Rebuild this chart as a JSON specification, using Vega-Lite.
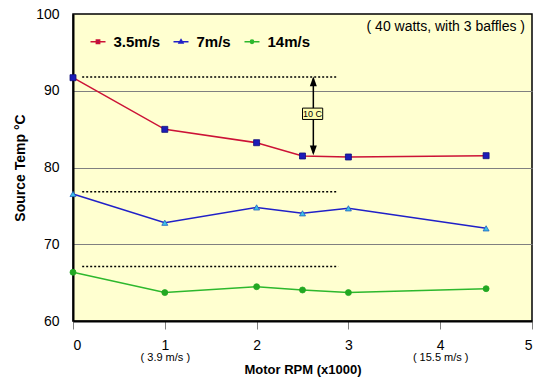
{
  "$schema": "https://vega.github.io/schema/vega-lite/v6.json",
  "width": 459,
  "height": 307,
  "autosize": {"type": "none"},
  "padding": {"left": 73, "top": 14, "right": 4, "bottom": 56},
  "background": "white",
  "config": {
    "font": "Liberation Sans",
    "view": {"fill": "#ffffd0", "stroke": "#000000", "strokeWidth": 1.5},
    "axis": {"labelColor": "#000000", "titleColor": "#000000", "labelFont": "Liberation Sans", "titleFont": "Liberation Sans"}
  },
  "datasets": {
    "temps": [
      {"series": "3.5m/s", "rpm": 0, "temp": 91.7},
      {"series": "3.5m/s", "rpm": 1, "temp": 84.97},
      {"series": "3.5m/s", "rpm": 2, "temp": 83.23},
      {"series": "3.5m/s", "rpm": 2.5, "temp": 81.5},
      {"series": "3.5m/s", "rpm": 3, "temp": 81.37},
      {"series": "3.5m/s", "rpm": 4.5, "temp": 81.54},
      {"series": "7m/s", "rpm": 0, "temp": 76.55},
      {"series": "7m/s", "rpm": 1, "temp": 72.8},
      {"series": "7m/s", "rpm": 2, "temp": 74.8},
      {"series": "7m/s", "rpm": 2.5, "temp": 74.03},
      {"series": "7m/s", "rpm": 3, "temp": 74.68},
      {"series": "7m/s", "rpm": 4.5, "temp": 72.07},
      {"series": "14m/s", "rpm": 0, "temp": 66.35},
      {"series": "14m/s", "rpm": 1, "temp": 63.7},
      {"series": "14m/s", "rpm": 2, "temp": 64.47},
      {"series": "14m/s", "rpm": 2.5, "temp": 64.04},
      {"series": "14m/s", "rpm": 3, "temp": 63.7},
      {"series": "14m/s", "rpm": 4.5, "temp": 64.21}
    ]
  },
  "resolve": {"axis": {"x": "independent"}},
  "layer": [
    {
      "data": {"name": "temps"},
      "mark": {"type": "line", "strokeWidth": 1.5},
      "encoding": {
        "x": {"field": "rpm", "type": "quantitative", "scale": {"domain": [0, 5], "nice": false},
          "axis": {"orient": "bottom", "values": [0, 1, 2, 3, 4, 5], "format": "d", "title": null, "grid": false, "domain": true, "domainColor": "#000000", "domainWidth": 2, "tickSize": 8, "tickColor": "#808080", "labelFontSize": 14, "labelPadding": 9}},
        "y": {"field": "temp", "type": "quantitative", "scale": {"domain": [60, 100], "nice": false},
          "axis": {"values": [60, 70, 80, 90, 100], "title": "Source Temp °C", "titleFontSize": 14, "titleFontWeight": "bold", "titlePadding": 8, "labelFontSize": 14, "labelPadding": 14, "ticks": false, "tickSize": 0, "domain": true, "domainColor": "#000000", "domainWidth": 2, "grid": true, "gridColor": {"condition": {"test": "datum.value == 60 || datum.value == 100", "value": "transparent"}, "value": "#808080"}, "gridWidth": 1}},
        "color": {"field": "series", "type": "nominal",
          "scale": {"domain": ["3.5m/s", "7m/s", "14m/s"], "range": ["#cc1236", "#2020c8", "#2db82d"]},
          "legend": {"orient": "none", "legendX": 16.5, "legendY": 19, "direction": "horizontal", "title": null, "padding": 0,
            "labelFontSize": 15, "labelFontWeight": "bold", "labelColor": "#000000", "labelFont": "Liberation Sans", "labelOffset": 7, "columnPadding": 10,
            "symbolSize": 225, "symbolStrokeWidth": 1.5, "symbolType": "M-1,0H1M-0.2,-0.2H0.2V0.2H-0.2Z",
            "encode": {"symbols": {"update": {
              "shape": {"signal": "datum.value === '3.5m/s' ? 'M-1,0H1M-0.22,-0.22H0.22V0.22H-0.22Z' : datum.value === '7m/s' ? 'M-1,0H1M0,-0.27L0.26,0.18H-0.26Z' : 'M-1,0H1M0.22,0A0.22,0.22,0,1,1,-0.22,0A0.22,0.22,0,1,1,0.22,0'"},
              "fill": {"signal": "datum.value === '3.5m/s' ? '#1c1cb8' : datum.value === '7m/s' ? '#3cc0e8' : '#22a822'"},
              "fillOpacity": {"value": 1}
            }}}}}
      }
    },
    {
      "data": {"name": "temps"},
      "transform": [{"filter": "datum.series === '3.5m/s'"}],
      "mark": {"type": "point", "shape": "square", "filled": true, "fill": "#1c1cb8", "stroke": "#10107a", "strokeWidth": 0.8, "opacity": 1, "size": 36},
      "encoding": {
        "x": {"field": "rpm", "type": "quantitative", "axis": null},
        "y": {"field": "temp", "type": "quantitative"}
      }
    },
    {
      "data": {"name": "temps"},
      "transform": [{"filter": "datum.series === '7m/s'"}],
      "mark": {"type": "point", "shape": "triangle-up", "filled": true, "fill": "#3cc0e8", "stroke": "#2060c0", "strokeWidth": 0.8, "opacity": 1, "size": 36},
      "encoding": {
        "x": {"field": "rpm", "type": "quantitative", "axis": null},
        "y": {"field": "temp", "type": "quantitative"}
      }
    },
    {
      "data": {"name": "temps"},
      "transform": [{"filter": "datum.series === '14m/s'"}],
      "mark": {"type": "point", "shape": "circle", "filled": true, "fill": "#22a822", "stroke": "#22a822", "strokeWidth": 0.8, "opacity": 1, "size": 36},
      "encoding": {
        "x": {"field": "rpm", "type": "quantitative", "axis": null},
        "y": {"field": "temp", "type": "quantitative"}
      }
    },
    {
      "data": {"values": [
        {"x": 0.1, "x2": 2.87, "temp": 91.8},
        {"x": 0.1, "x2": 2.87, "temp": 76.85},
        {"x": 0.1, "x2": 2.89, "temp": 67.1}
      ]},
      "mark": {"type": "rule", "color": "#000000", "strokeWidth": 1.5, "strokeDash": [2, 2]},
      "encoding": {
        "x": {"field": "x", "type": "quantitative",
          "axis": {"orient": "bottom", "values": [1, 4], "labelExpr": "datum.value == 1 ? '( 3.9 m/s )' : '( 15.5 m/s )'", "ticks": false, "tickSize": 0, "domain": false, "grid": false, "labelFontSize": 11, "labelPadding": 30,
            "title": "Motor RPM (x1000)", "titleFontSize": 13, "titleFontWeight": "bold", "titlePadding": 1}},
        "x2": {"field": "x2"},
        "y": {"field": "temp", "type": "quantitative"}
      }
    },
    {
      "data": {"values": [{"x": 2.618, "y1": 81.9, "y2": 91.6}]},
      "mark": {"type": "rule", "color": "#000000", "strokeWidth": 1.5},
      "encoding": {
        "x": {"field": "x", "type": "quantitative", "axis": null},
        "y": {"field": "y1", "type": "quantitative"},
        "y2": {"field": "y2"}
      }
    },
    {
      "data": {"values": [{"x": 2.618, "temp": 91.85}]},
      "mark": {"type": "point", "filled": true, "color": "#000000", "opacity": 1, "size": 49, "shape": "M0,0L1,2.8L-1,2.8Z"},
      "encoding": {
        "x": {"field": "x", "type": "quantitative", "axis": null},
        "y": {"field": "temp", "type": "quantitative"}
      }
    },
    {
      "data": {"values": [{"x": 2.618, "temp": 81.6}]},
      "mark": {"type": "point", "filled": true, "color": "#000000", "opacity": 1, "size": 49, "shape": "M0,0L1,-2.8L-1,-2.8Z"},
      "encoding": {
        "x": {"field": "x", "type": "quantitative", "axis": null},
        "y": {"field": "temp", "type": "quantitative"}
      }
    },
    {
      "data": {"values": [{"x": 2.5, "x2": 2.72, "temp": 87.74, "temp2": 86.26}]},
      "mark": {"type": "rect", "fill": "#ffffb0", "stroke": "#000000", "strokeWidth": 1},
      "encoding": {
        "x": {"field": "x", "type": "quantitative", "axis": null},
        "x2": {"field": "x2"},
        "y": {"field": "temp", "type": "quantitative"},
        "y2": {"field": "temp2"}
      }
    },
    {
      "data": {"values": [{"x": 2.61, "temp": 87.0, "label": "10 C"}]},
      "mark": {"type": "text", "fontSize": 9, "color": "#000000", "align": "center", "baseline": "middle"},
      "encoding": {
        "x": {"field": "x", "type": "quantitative", "axis": null},
        "y": {"field": "temp", "type": "quantitative"},
        "text": {"field": "label"}
      }
    },
    {
      "data": {"values": [{"x": 4.924, "temp": 98.3, "label": "( 40 watts, with 3 baffles )"}]},
      "mark": {"type": "text", "fontSize": 14, "color": "#000000", "align": "right", "baseline": "middle"},
      "encoding": {
        "x": {"field": "x", "type": "quantitative", "axis": null},
        "y": {"field": "temp", "type": "quantitative"},
        "text": {"field": "label"}
      }
    }
  ]
}
